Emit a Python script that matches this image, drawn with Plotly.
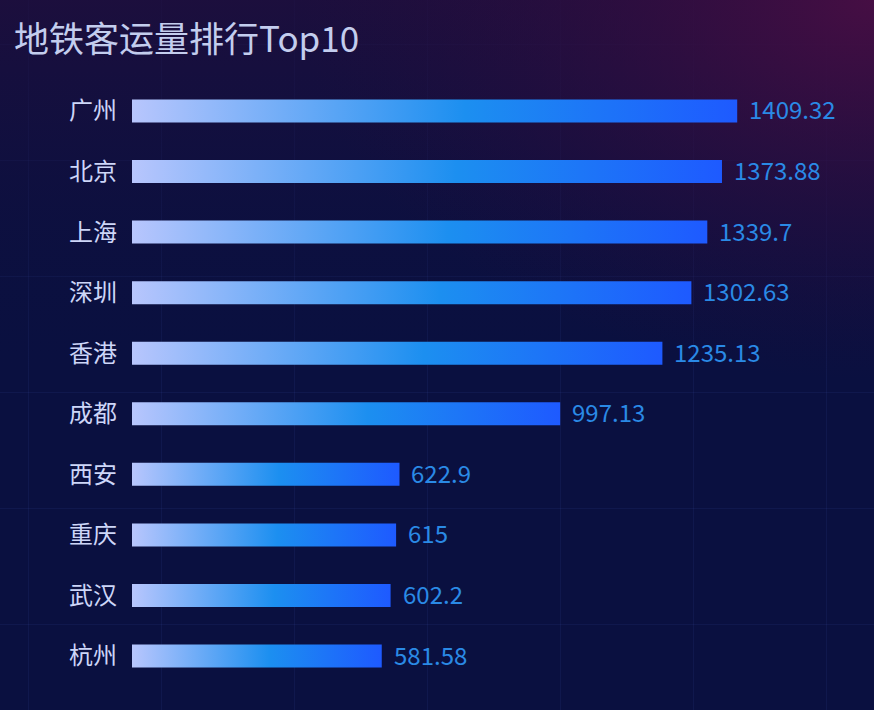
import plotly.graph_objects as go

# данные: пассажиропоток метро, топ-10 городов
cities = ["广州", "北京", "上海", "深圳", "香港", "成都", "西安", "重庆", "武汉", "杭州"]
ridership = [1409.32, 1373.88, 1339.7, 1302.63, 1235.13, 997.13, 622.9, 615, 602.2, 581.58]
value_labels = ["1409.32", "1373.88", "1339.7", "1302.63", "1235.13", "997.13", "622.9", "615", "602.2", "581.58"]

W, H = 874, 710
FONT = "Noto Sans CJK SC"
bar_half = 0.19

fig = go.Figure()

# фон (ось x/y во весь холст, рисуется первой, т.е. под полосами)
fig.add_trace(go.Scatter(
    x=[0, W, W, 0, 0], y=[0, 0, 380, 380, 0],
    mode="lines", line=dict(width=0), fill="toself",
    fillgradient=dict(type="vertical", colorscale=[[0, "rgba(10,16,64,0)"], [1, "rgba(34,14,60,0.75)"]]),
    hoverinfo="skip", showlegend=False,
))
fig.add_trace(go.Scatter(
    x=[300, 1450, 1450, 300, 300], y=[-380, -380, 380, 380, -380],
    mode="lines", line=dict(width=0), fill="toself",
    fillgradient=dict(type="radial", colorscale=[[0, "rgba(72,14,68,0.95)"], [1, "rgba(40,12,60,0)"]]),
    hoverinfo="skip", showlegend=False,
))

# полосы с горизонтальным градиентом
bar_scale = [[0, "#b8c6fd"], [0.55, "#1c8ff0"], [1, "#1e5aff"]]
for i, v in enumerate(ridership):
    fig.add_trace(go.Scatter(
        x=[0, v, v, 0, 0],
        y=[i - bar_half, i - bar_half, i + bar_half, i + bar_half, i - bar_half],
        xaxis="x2", yaxis="y2",
        mode="lines", line=dict(width=0), fill="toself",
        fillgradient=dict(type="horizontal", colorscale=bar_scale),
        name=cities[i], hoverinfo="name+x", showlegend=False,
    ))

# подписи значений справа от полос
for i, v in enumerate(ridership):
    fig.add_annotation(
        x=v, y=i, xref="x2", yref="y2", text=value_labels[i], showarrow=False,
        xanchor="left", yanchor="middle", xshift=10, yshift=2,
        font=dict(family=FONT, size=24, color="#2a8ae6"),
    )

fig.update_layout(
    width=W, height=H,
    margin=dict(l=0, r=0, t=0, b=0),
    paper_bgcolor="#0a1040",
    plot_bgcolor="rgba(0,0,0,0)",
    title=dict(text="地铁客运量排行Top10", x=14 / W, xanchor="left", y=1 - 40 / H, yanchor="middle",
               font=dict(family=FONT, size=35, color="#c3cdee")),
    xaxis=dict(domain=[0, 1], range=[0, W], showgrid=True, dtick=133, tick0=28,
               gridcolor="rgba(80,100,200,0.10)", zeroline=False, showticklabels=False),
    yaxis=dict(domain=[0, 1], range=[H, 0], showgrid=True, dtick=116, tick0=44,
               gridcolor="rgba(80,100,200,0.10)", zeroline=False, showticklabels=False),
    xaxis2=dict(domain=[132 / W, 850 / W], range=[0, 1672], visible=False, anchor="y2"),
    yaxis2=dict(domain=[1 - 686.3 / H, 1 - 80.7 / H], range=[9.5, -0.5], anchor="x2",
                tickvals=list(range(len(cities))), ticktext=cities,
                ticklabelstandoff=14, showgrid=False, zeroline=False, showline=False,
                tickfont=dict(family=FONT, size=24, color="#cdd6f8")),
    showlegend=False,
)

fig.write_html("out.html", config={"displayModeBar": False},
               post_script="document.body.style.margin='0';")
